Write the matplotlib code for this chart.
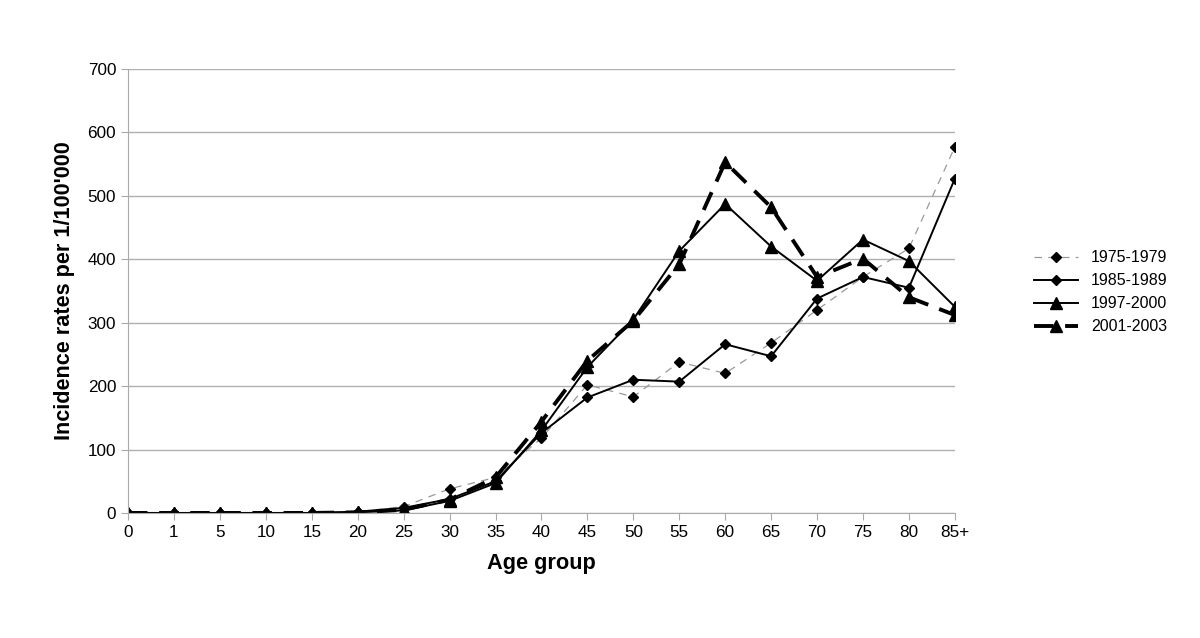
import numpy as np
import matplotlib.pyplot as plt

plt.rcParams['font.family'] = ['Liberation Sans', 'DejaVu Sans']

# Data
age_groups = ['0', '1', '5', '10', '15', '20', '25', '30', '35', '40',
              '45', '50', '55', '60', '65', '70', '75', '80', '85+']
rates_1975 = [0, 0, 0, 0, 0, 2, 10, 38, 56, 118, 202, 183, 238, 220, 268, 320, 372, 417, 577]
rates_1985 = [0, 0, 0, 0, 0, 2, 8, 22, 50, 126, 182, 210, 207, 266, 247, 338, 372, 355, 527]
rates_1997 = [0, 0, 0, 0, 0, 1, 4, 19, 47, 130, 230, 305, 413, 487, 420, 366, 431, 397, 325]
rates_2001 = [0, 0, 0, 0, 0, 1, 5, 21, 56, 144, 240, 303, 392, 553, 482, 372, 401, 340, 312]

x = np.arange(len(age_groups))

fig = plt.figure(figsize=(12, 6.38), dpi=100)
ax = fig.add_axes([0.1067, 0.196, 0.689, 0.696])

ax.plot(x, rates_1975, color='#999999', lw=0.9, dashes=(6, 5),
        marker='D', ms=5.5, mfc='black', mec='black', label='1975-1979')
ax.plot(x, rates_1985, color='black', lw=1.4,
        marker='D', ms=5.5, label='1985-1989')
ax.plot(x, rates_1997, color='black', lw=1.4,
        marker='^', ms=8, label='1997-2000')
ax.plot(x, rates_2001, color='black', lw=2.8, dashes=(5, 3),
        marker='^', ms=8, label='2001-2003')

ax.set_xlim(0, len(age_groups) - 1)
ax.set_ylim(0, 700)
ax.set_xticks(x)
ax.set_xticklabels(age_groups)
ax.set_yticks(np.arange(0, 701, 100))
ax.grid(axis='y', color='#b0b0b0', lw=1)
ax.set_axisbelow(True)

for s in ['top', 'right']:
    ax.spines[s].set_visible(False)
for s in ['left', 'bottom']:
    ax.spines[s].set_color('#aaaaaa')
ax.tick_params(axis='both', colors='#aaaaaa', labelcolor='black',
               labelsize=12.3, length=5)
ax.tick_params(axis='x', pad=4)

ax.set_xlabel('Age group', fontsize=15.7, fontweight='bold', labelpad=9)
ax.set_ylabel("Incidence rates per 1/100'000", fontsize=15.6,
              fontweight='bold', labelpad=9)

ax.legend(loc='center left', bbox_to_anchor=(1.078, 0.497), frameon=False,
          fontsize=11.5, handlelength=2.8, labelspacing=0.5)

fig.savefig('out.png', dpi=100)
